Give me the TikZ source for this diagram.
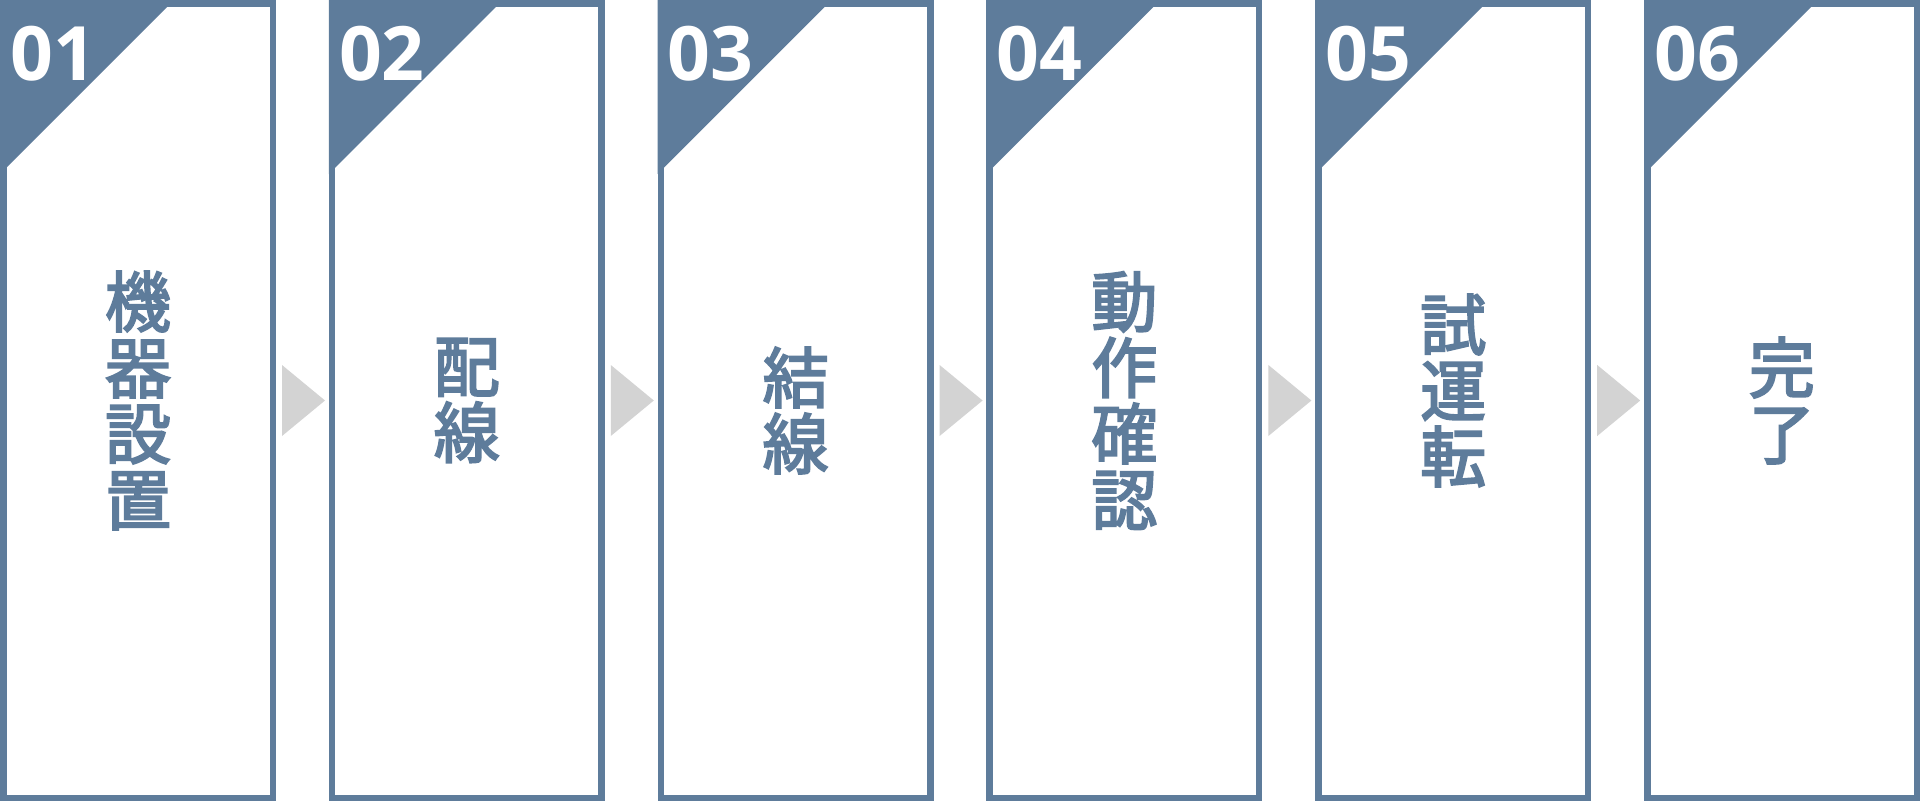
\documentclass[tikz,border=0pt]{standalone}
\usepackage{fontspec}
\newfontfamily\jpfont{Noto Sans CJK JP}[FakeBold=3]
\newfontfamily\numfont{Open Sans}
\usetikzlibrary{calc}

\definecolor{stepblue}{HTML}{5E7C9B}
\definecolor{arrowgray}{HTML}{D3D3D3}
\tikzset{
  stepbox/.style={draw=stepblue, line width=6.5pt, fill=white, minimum width=269.5pt, minimum height=794.5pt, inner sep=0pt},
  steplabel/.style={text=stepblue, font=\jpfont\fontsize{66}{66}\selectfont, align=center, inner sep=0pt},
  stepnum/.style={text=white, font=\numfont\bfseries\fontsize{75}{75}\selectfont, anchor=base west, inner sep=0pt},
  corner/.style={fill=stepblue},
  steparrow/.style={fill=arrowgray},
}

\begin{document}
\begin{tikzpicture}[x=1pt, y=-1pt]
    \useasboundingbox (0, 0) rectangle (1920, 801);

    \node[stepbox] (s1) at (138, 400.5) {};
    \node[stepbox] (s2) at (466.8, 400.5) {};
    \node[stepbox] (s3) at (795.6, 400.5) {};
    \node[stepbox] (s4) at (1124.4, 400.5) {};
    \node[stepbox] (s5) at (1453.2, 400.5) {};
    \node[stepbox] (s6) at (1782, 400.5) {};

    \fill[corner] (s1.north west) -- ++(174, 0) -- ++(-174, 174) -- cycle;
    \fill[corner] (s2.north west) -- ++(174, 0) -- ++(-174, 174) -- cycle;
    \fill[corner] (s3.north west) -- ++(174, 0) -- ++(-174, 174) -- cycle;
    \fill[corner] (s4.north west) -- ++(174, 0) -- ++(-174, 174) -- cycle;
    \fill[corner] (s5.north west) -- ++(174, 0) -- ++(-174, 174) -- cycle;
    \fill[corner] (s6.north west) -- ++(174, 0) -- ++(-174, 174) -- cycle;

    \node[stepnum] (n1) at ($(s1.north west)+(10, 80)$) {01};
    \node[stepnum] (n2) at ($(s2.north west)+(10, 80)$) {02};
    \node[stepnum] (n3) at ($(s3.north west)+(10, 80)$) {03};
    \node[stepnum] (n4) at ($(s4.north west)+(10, 80)$) {04};
    \node[stepnum] (n5) at ($(s5.north west)+(10, 80)$) {05};
    \node[stepnum] (n6) at ($(s6.north west)+(10, 80)$) {06};

    \node[steplabel] (l1) at (s1.center) {機\\器\\設\\置};
    \node[steplabel] (l2) at (s2.center) {配\\線};
    \node[steplabel] (l3) at ($(s3.center)+(0, 10)$) {結\\線};
    \node[steplabel] (l4) at (s4.center) {動\\作\\確\\認};
    \node[steplabel] (l5) at ($(s5.center)+(0, -10)$) {試\\運\\転};
    \node[steplabel] (l6) at (s6.center) {完\\了};

    % arrows between the steps
    \fill[steparrow] ($(s1.east)+(6, -35.5)$) -- ($(s1.east)+(49, 0)$) -- ($(s1.east)+(6, 35.5)$) -- cycle;
    \fill[steparrow] ($(s2.east)+(6, -35.5)$) -- ($(s2.east)+(49, 0)$) -- ($(s2.east)+(6, 35.5)$) -- cycle;
    \fill[steparrow] ($(s3.east)+(6, -35.5)$) -- ($(s3.east)+(49, 0)$) -- ($(s3.east)+(6, 35.5)$) -- cycle;
    \fill[steparrow] ($(s4.east)+(6, -35.5)$) -- ($(s4.east)+(49, 0)$) -- ($(s4.east)+(6, 35.5)$) -- cycle;
    \fill[steparrow] ($(s5.east)+(6, -35.5)$) -- ($(s5.east)+(49, 0)$) -- ($(s5.east)+(6, 35.5)$) -- cycle;
  \end{tikzpicture}
\end{document}
